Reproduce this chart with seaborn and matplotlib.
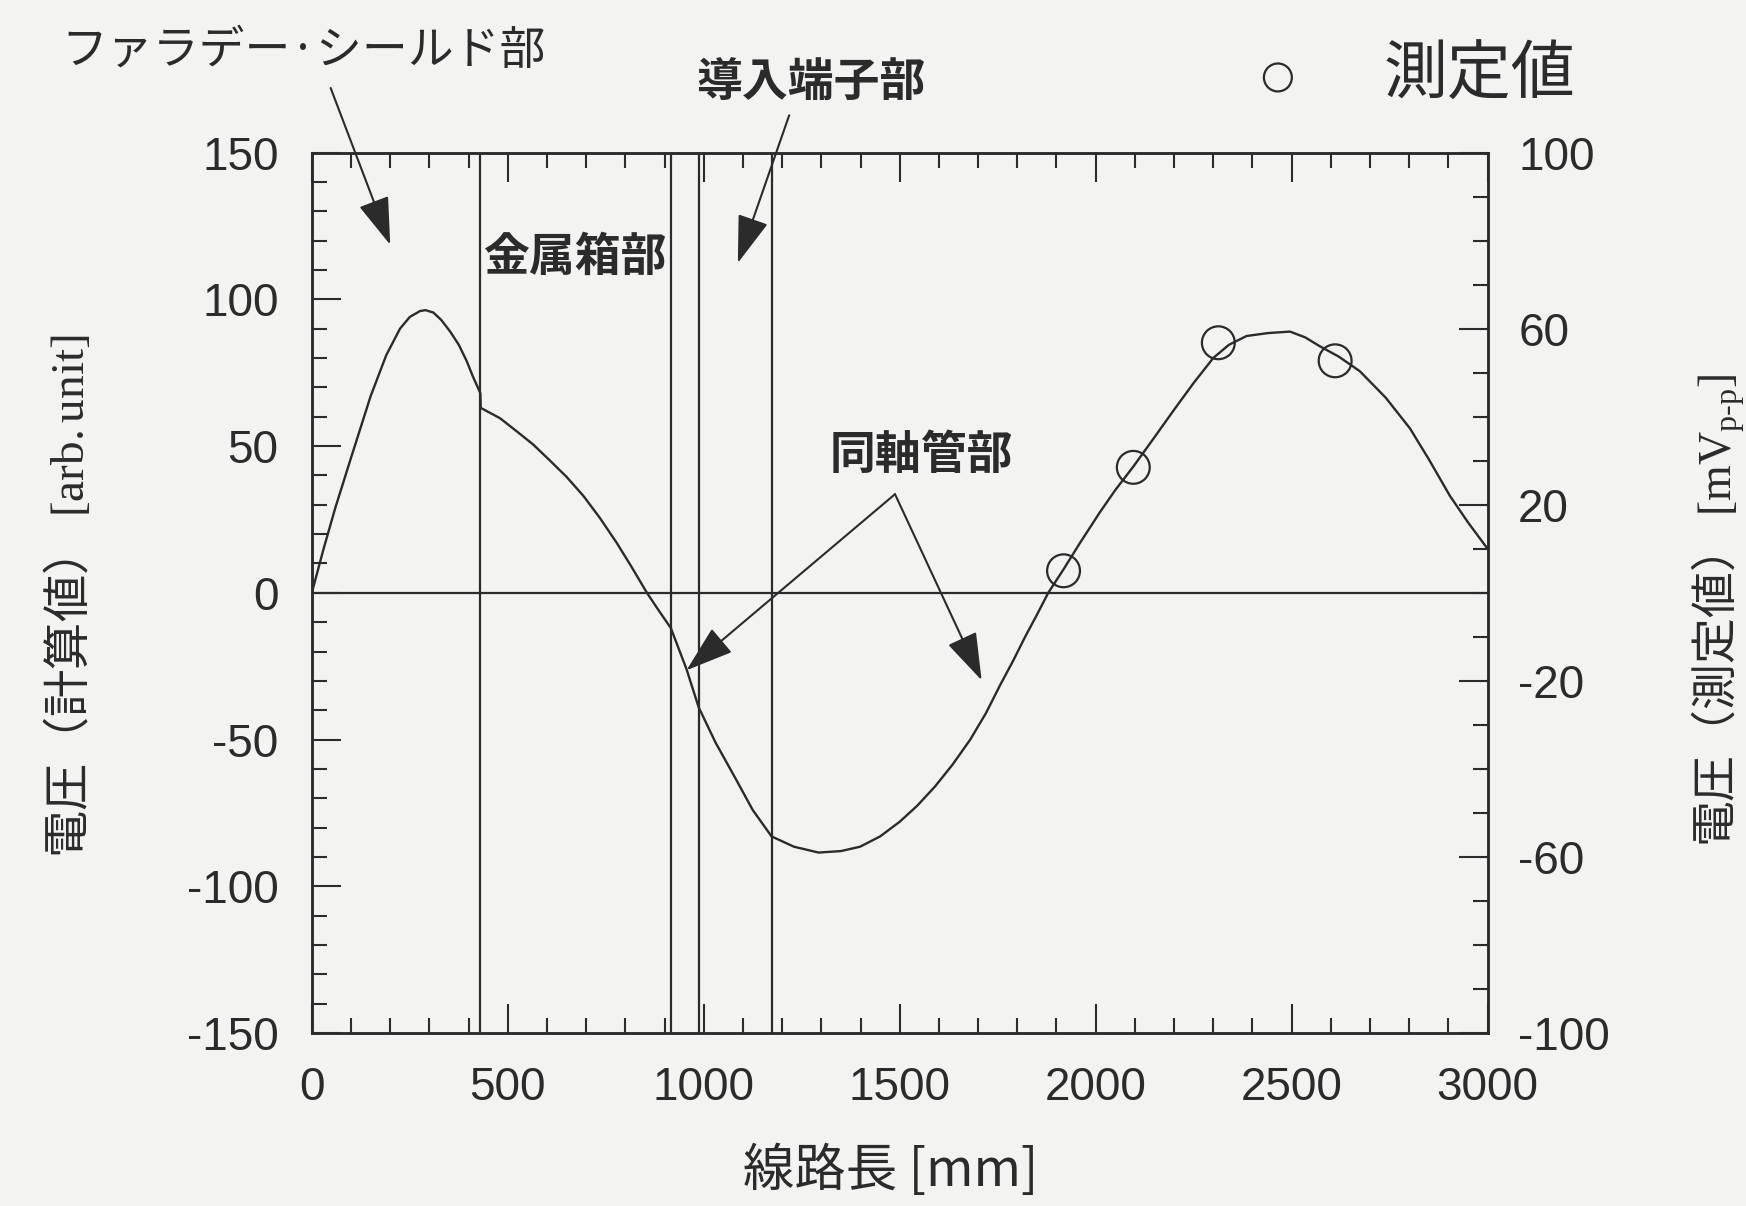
import numpy as np
import pandas as pd
import matplotlib
matplotlib.use("Agg")
import matplotlib.pyplot as plt
import seaborn as sns
from matplotlib.ticker import MultipleLocator, FixedLocator

# ---------------- data ----------------
calc_x_mm = [0, 30, 60, 100, 150, 190, 225, 250, 276, 290, 310, 330, 353,
             375, 395, 410, 430,
             431, 480, 523, 565, 608, 650, 693, 735, 778, 815, 855, 885, 916,
             956, 987, 1030, 1080, 1125, 1173,
             1230, 1293, 1350, 1399, 1450, 1500, 1545, 1590, 1635, 1680, 1720, 1756,
             1790, 1820, 1850, 1879, 1918, 1960, 2011, 2050, 2096, 2150, 2198, 2250,
             2300, 2340, 2385, 2440, 2496, 2535, 2572, 2620, 2674, 2740, 2802, 2850,
             2904, 2950, 3000]
calc_v = [0, 15, 29, 46, 67, 81, 90, 94, 96, 96.3, 95.5, 93, 89,
          84.5, 79, 74, 68,
          63, 59.5, 55, 50.5, 45, 39.5, 33, 25.5, 17, 9, 0, -6, -12,
          -26, -39, -51, -63, -74, -83,
          -86.5, -88.5, -88, -86.5, -83, -78, -72.5, -66, -58.5, -50, -41, -31.5,
          -23, -15, -7.5, 0, 8, 17, 27.5, 35, 43, 53, 62, 71.5,
          80, 84.5, 87.5, 88.5, 89, 87, 84, 80.5, 75.5, 66.5, 56, 45.5,
          33, 24, 15]
meas_x_mm = [1918, 2096, 2313, 2611]
meas_mv = [5.0, 28.5, 56.8, 52.7]
boundaries_mm = [430, 916, 987, 1173]
x_ticks = [0, 500, 1000, 1500, 2000, 2500, 3000]
left_ticks = [-150, -100, -50, 0, 50, 100, 150]
right_ticks = [-100, -60, -20, 20, 60, 100]

calc_df = pd.DataFrame({"x": calc_x_mm, "v": calc_v})
meas_df = pd.DataFrame({"x": meas_x_mm, "mv": meas_mv})

# ---------------- style ----------------
sns.set_theme(style="ticks")
plt.rcParams["font.family"] = ["Noto Sans CJK JP", "DejaVu Sans"]
plt.rcParams["axes.unicode_minus"] = False
plt.rcParams["mathtext.fontset"] = "custom"
plt.rcParams["mathtext.rm"] = "Liberation Serif"
plt.rcParams["mathtext.it"] = "Liberation Serif:italic"

ink = "#2b2b2b"
paper = "#f3f3f2"

fig = plt.figure(figsize=(17.46, 12.06), dpi=100, facecolor=paper)
ax = fig.add_axes([0.1786, 0.1434, 0.6734, 0.7301])
ax.set_facecolor(paper)

ax.axhline(0, color=ink, lw=1.6, zorder=1)
for b in boundaries_mm:
    ax.axvline(b, color=ink, lw=1.6, zorder=1)

sns.lineplot(data=calc_df, x="x", y="v", ax=ax, estimator=None, sort=False,
             color=ink, lw=1.7, zorder=3)

ax.set_xlim(0, 3000)
ax.set_ylim(-150, 150)

ax2 = ax.twinx()
sns.scatterplot(data=meas_df, x="x", y="mv", ax=ax2, marker="o", s=560,
                facecolor="none", edgecolor=ink, linewidth=1.6, label="測定値", zorder=4)
ax2.set_ylim(-100, 100)
ax2.set_xlim(0, 3000)

# ---------------- ticks ----------------
ax.xaxis.set_major_locator(FixedLocator(x_ticks))
ax.xaxis.set_minor_locator(MultipleLocator(100))
ax.yaxis.set_major_locator(FixedLocator(left_ticks))
ax.yaxis.set_minor_locator(MultipleLocator(10))
ax2.yaxis.set_major_locator(FixedLocator(right_ticks))
ax2.yaxis.set_minor_locator(MultipleLocator(10))

ax.tick_params(axis="x", which="both", direction="in", top=True, bottom=True,
               color=ink, width=1.5)
ax.tick_params(axis="y", which="both", direction="in", left=True, right=False,
               color=ink, width=1.5)
ax.tick_params(which="major", length=21)
ax.tick_params(which="minor", length=11)
ax.tick_params(axis="x", which="major", pad=24, labelsize=33, labelcolor=ink,
               labelfontfamily="Liberation Sans")
ax.tick_params(axis="y", which="major", pad=24, labelsize=33, labelcolor=ink,
               labelfontfamily="Liberation Sans")
ax2.tick_params(axis="y", which="both", direction="in", right=True, left=False,
                color=ink, width=1.5)
ax2.tick_params(axis="y", which="major", length=21, pad=22, labelsize=33,
                labelcolor=ink, labelfontfamily="Liberation Sans")
ax2.tick_params(axis="y", which="minor", length=11)

for a in (ax, ax2):
    for s in a.spines.values():
        s.set_color(ink)
        s.set_linewidth(1.8)

# ---------------- labels ----------------
ax.set_xlabel("線路長 [mm]", fontsize=37, color=ink)
ax.xaxis.set_label_coords(0.4926, -0.127)
ax.set_ylabel("電圧（計算値） $[\\mathrm{arb.unit}]$", fontsize=34, color=ink)
ax.yaxis.set_label_coords(-0.184, 0.496)
ax2.set_ylabel("電圧（測定値） $[\\mathrm{mV}_{\\mathrm{p\\text{-}p}}]$", fontsize=33,
               color=ink, rotation=90)
ax2.yaxis.set_label_coords(1.172, 0.48)

# legend
ax2.legend(loc="center left", bbox_to_anchor=(0.7136, 0.937),
           bbox_transform=fig.transFigure, frameon=False, fontsize=46,
           handlelength=1.0, handletextpad=1.16, borderpad=0, borderaxespad=0,
           markerscale=0.85, labelcolor=ink)

# ---------------- annotations ----------------
arrow = dict(arrowstyle="-|>,head_length=1.0,head_width=0.33", mutation_scale=30,
             lw=1.5, color=ink, shrinkA=0, shrinkB=0)
txt_kw = dict(color=ink, fontsize=33, annotation_clip=False)

ax.annotate("ファラデー·シールド部", xy=(-640, 184.8), ha="left", va="center", **txt_kw)
ax.annotate("", xy=(200, 118.6), xytext=(48, 172), arrowprops=arrow, annotation_clip=False)

ax.annotate("導入端子部", xy=(980, 173.5), ha="left", va="center", fontweight="bold", **txt_kw)
ax.annotate("", xy=(1087, 112.4), xytext=(1218, 162.7), arrowprops=arrow, annotation_clip=False)

ax.annotate("金属箱部", xy=(440, 114), ha="left", va="center", fontweight="bold", **txt_kw)

ax.annotate("同軸管部", xy=(1321, 46.7), ha="left", va="center", fontweight="bold", **txt_kw)
ax.annotate("", xy=(956, -26.4), xytext=(1488, 33.6), arrowprops=arrow, annotation_clip=False)
ax.annotate("", xy=(1709, -29.8), xytext=(1488, 33.6), arrowprops=arrow, annotation_clip=False)

fig.savefig("out.png", dpi=100, facecolor=paper)
